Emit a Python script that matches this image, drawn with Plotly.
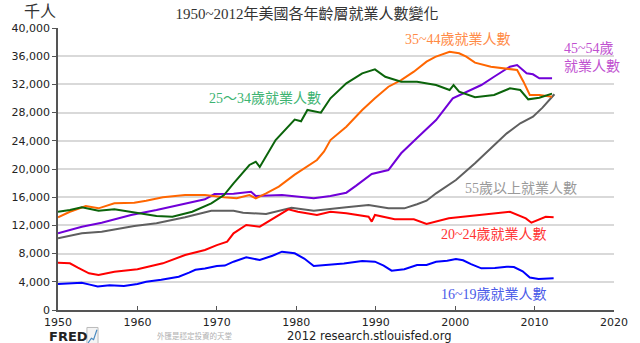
import plotly.graph_objects as go

# ---- data (thousands of persons) ----
years_16_19 = [1950.0, 1951.5, 1953.0, 1954.0, 1955.0, 1956.5, 1958.3, 1960.0, 1961.1, 1963.0, 1965.2, 1966.5,
               1967.3, 1968.5, 1970.0, 1971.0, 1972.1, 1973.7, 1975.4, 1977.0, 1978.2, 1979.8, 1981.0, 1982.2,
               1984.3, 1986.0, 1988.3, 1989.9, 1991.0, 1992.0, 1993.6, 1995.2, 1996.4, 1997.6, 1999.0, 2000.1,
               2001.0, 2002.0, 2003.3, 2005.0, 2006.5, 2007.4, 2008.5, 2009.4, 2010.5, 2011.5, 2012.4]
vals_16_19 = [3700, 3800, 3870, 3600, 3350, 3500, 3400, 3700, 4000, 4300, 4720, 5300,
              5700, 5900, 6240, 6300, 6850, 7470, 7090, 7700, 8270, 8040, 7300, 6240,
              6380, 6600, 6950, 6850, 6300, 5580, 5770, 6380, 6400, 6850, 7000, 7230,
              7050, 6500, 5910, 5950, 6140, 6100, 5500, 4600, 4400, 4450, 4500]

years_20_24 = [1950.0, 1951.5, 1952.5, 1953.9, 1955.1, 1957.1, 1960.0, 1963.2, 1966.0, 1968.5, 1970.0, 1971.3,
               1972.1, 1973.7, 1975.4, 1977.0, 1979.0, 1980.2, 1982.6, 1984.3, 1986.3, 1989.1, 1989.5, 1989.9,
               1992.4, 1994.8, 1996.4, 1999.2, 2003.3, 2006.9, 2008.9, 2009.6, 2011.4, 2012.4]
vals_20_24 = [6710, 6620, 6000, 5200, 4960, 5430, 5770, 6620, 7800, 8510, 9200, 9690,
              10880, 12060, 11820, 12900, 14280, 13940, 13480, 13940, 13710, 13230, 12530, 13480,
              12860, 12860, 12200, 13000, 13480, 13940, 13000, 12380, 13230, 13150]

years_25_34 = [1950.0, 1951.5, 1953.0, 1955.1, 1957.1, 1960.0, 1962.4, 1964.4, 1966.9, 1969.3, 1970.9, 1972.1,
               1974.1, 1974.9, 1975.4, 1977.4, 1979.8, 1980.6, 1981.4, 1983.1, 1984.3, 1986.3, 1988.3, 1989.9,
               1991.2, 1993.2, 1995.2, 1997.6, 1999.3, 1999.8, 2000.5, 2002.5, 2004.9, 2006.9, 2008.2, 2009.2,
               2010.6, 2012.2]
vals_25_34 = [13940, 14180, 14560, 14090, 14280, 13800, 13330, 13230, 13940, 15130, 16310, 17970,
              20570, 21040, 20300, 24110, 27000, 26770, 28370, 27990, 30030, 32150, 33570, 34130,
              33090, 32390, 32390, 31910, 31200, 31910, 30970, 30170, 30500, 31440, 31200, 29880,
              30100, 30690]

years_35_44 = [1950.0, 1951.5, 1953.5, 1955.1, 1957.1, 1959.6, 1961.1, 1963.2, 1966.0, 1968.5, 1970.9, 1972.5,
               1974.1, 1974.9, 1976.2, 1977.8, 1979.8, 1982.6, 1983.5, 1984.3, 1986.3, 1988.3, 1989.9, 1991.6,
               1993.2, 1994.8, 1996.4, 1997.5, 1999.3, 2000.5, 2001.4, 2002.5, 2004.5, 2006.5, 2007.8, 2008.6,
               2009.4, 2010.6, 2012.2]
vals_35_44 = [13150, 13940, 14750, 14420, 15130, 15220, 15500, 15980, 16310, 16310, 15980, 15840,
              16310, 15840, 16550, 17500, 19200, 21280, 22500, 24100, 26000, 28370, 30030, 31670,
              32620, 33800, 35220, 35900, 36640, 36410, 35930, 35080, 34510, 34280, 34040, 32390,
              30500, 30500, 30260]

years_45_54 = [1950.0, 1953.0, 1955.5, 1959.2, 1962.4, 1965.2, 1968.5, 1969.7, 1972.1, 1974.3, 1974.9, 1978.2,
               1982.2, 1984.3, 1986.3, 1987.5, 1988.3, 1989.5, 1991.6, 1993.2, 1995.2, 1997.6, 1999.7, 2001.4,
               2003.3, 2004.9, 2006.9, 2007.8, 2009.0, 2009.8, 2010.6, 2012.2]
vals_45_54 = [10880, 11820, 12380, 13480, 14180, 14890, 15700, 16450, 16500, 16780, 16170, 16310,
              15840, 16170, 16640, 17600, 18300, 19290, 19860, 22230, 24400, 26950, 30030, 30970,
              31910, 33090, 34510, 34750, 33570, 33430, 32870, 32870]

years_55_up = [1950.0, 1953.0, 1955.5, 1957.1, 1959.6, 1962.4, 1966.0, 1969.3, 1972.1, 1973.3, 1976.2, 1979.4,
               1982.2, 1986.3, 1989.1, 1991.6, 1993.6, 1995.2, 1996.4, 1997.6, 2000.1, 2002.5, 2004.9, 2006.5,
               2008.2, 2009.8, 2011.0, 2012.5]
vals_55_up = [10170, 10880, 11110, 11440, 11910, 12300, 13150, 14090, 14090, 13800, 13620, 14510,
              14090, 14560, 14890, 14420, 14420, 15000, 15500, 16550, 18440, 20810, 23400, 25060,
              26480, 27420, 28700, 30600]

x_ticks = [1950, 1960, 1970, 1980, 1990, 2000, 2010, 2020]
y_ticks = list(range(0, 40001, 4000))

series = [
    ("55歲以上", years_55_up, vals_55_up, "#5f5f5f"),
    ("16~19歲", years_16_19, vals_16_19, "#0000ff"),
    ("20~24歲", years_20_24, vals_20_24, "#ff0000"),
    ("45~54歲", years_45_54, vals_45_54, "#7000d8"),
    ("35~44歲", years_35_44, vals_35_44, "#ff6600"),
    ("25~34歲", years_25_34, vals_25_34, "#0b640b"),
]

fig = go.Figure()
for name, xs, ys, col in series:
    fig.add_trace(go.Scatter(x=xs, y=ys, mode="lines", name=name,
                             line=dict(color=col, width=2), showlegend=False))

LBL_FONT = "Liberation Serif, Noto Sans CJK TC"
labels = [
    ("35~44歲就業人數", 2000.3, 38300, "#ff8a45", "center"),
    ("25～34歲就業人數", 1976.0, 30070, "#3cb371", "center"),
    ("55歲以上就業人數", 2008.3, 17300, "#999999", "center"),
    ("20~24歲就業人數", 2004.9, 10780, "#ff3333", "center"),
    ("16~19歲就業人數", 2004.9, 2130, "#4a5ae8", "center"),
]
for txt, xx, yy, col, anc in labels:
    fig.add_annotation(x=xx, y=yy, xref="x", yref="y", text=txt, showarrow=False,
                       xanchor=anc, yanchor="middle",
                       font=dict(family=LBL_FONT, size=14, color=col))
fig.add_annotation(x=2013.4, y=35820, xref="x", yref="y", text="45~54歲<br>就業人數",
                   showarrow=False, xanchor="left", yanchor="middle", align="left",
                   font=dict(family=LBL_FONT, size=14, color="#c050d0"))

# unit label
fig.add_annotation(x=-0.033, y=1.057, xref="paper", yref="paper", text="千人", showarrow=False,
                   xanchor="center", yanchor="middle",
                   font=dict(family=LBL_FONT, size=16, color="#333333"))

# footer texts
fig.add_annotation(x=0.559, y=-0.092, xref="paper", yref="paper", text="2012 research.stlouisfed.org",
                   showarrow=False, xanchor="center", yanchor="middle",
                   font=dict(family="DejaVu Sans", size=11.5, color="#222222"))
fig.add_annotation(x=-0.019, y=-0.095, xref="paper", yref="paper", text="<b>FRED</b>",
                   showarrow=False, xanchor="left", yanchor="middle",
                   font=dict(family="DejaVu Sans", size=13, color="#222222"))
fig.add_annotation(x=0.245, y=-0.092, xref="paper", yref="paper", text="外匯是穩定投資的天堂",
                   showarrow=False, xanchor="center", yanchor="middle",
                   font=dict(family="Noto Sans CJK TC", size=7.5, color="#b0b0b0"))
# small FRED icon
fig.add_shape(type="rect", xref="paper", yref="paper", x0=0.052, x1=0.072, y0=-0.125, y1=-0.062,
              line=dict(color="#bbbbbb", width=1), fillcolor="#f4f4f4")
fig.add_shape(type="path", xref="paper", yref="paper",
              path="M 0.054 -0.117 L 0.060 -0.100 L 0.064 -0.105 L 0.070 -0.070",
              line=dict(color="#4a8bc0", width=1.2))

fig.update_layout(
    width=640, height=343,
    margin=dict(l=48, r=16, t=28, b=33),
    paper_bgcolor="white", plot_bgcolor="white",
    title=dict(text="1950~2012年美國各年齡層就業人數變化", x=307 / 640, y=1 - 14 / 343,
               xanchor="center", yanchor="middle",
               font=dict(family=LBL_FONT, size=15, color="#333333")),
    xaxis=dict(range=[1950, 2020], tickvals=x_ticks, ticktext=[str(v) for v in x_ticks],
               showgrid=False, zeroline=False, showline=True, linecolor="#555555", linewidth=1.5,
               ticks="inside", ticklen=4, tickcolor="#555555", ticklabelstandoff=1,
               tickfont=dict(family="DejaVu Sans", size=11, color="#222222")),
    yaxis=dict(range=[0, 40000], tickvals=y_ticks, tickformat=",",
               showgrid=True, gridcolor="#d9d9d9", gridwidth=2, zeroline=False,
               showline=True, linecolor="#555555", linewidth=1.5,
               ticks="outside", ticklen=4, tickcolor="#555555",
               tickfont=dict(family="DejaVu Sans", size=11, color="#222222")),
)

fig.write_html("out.html")
